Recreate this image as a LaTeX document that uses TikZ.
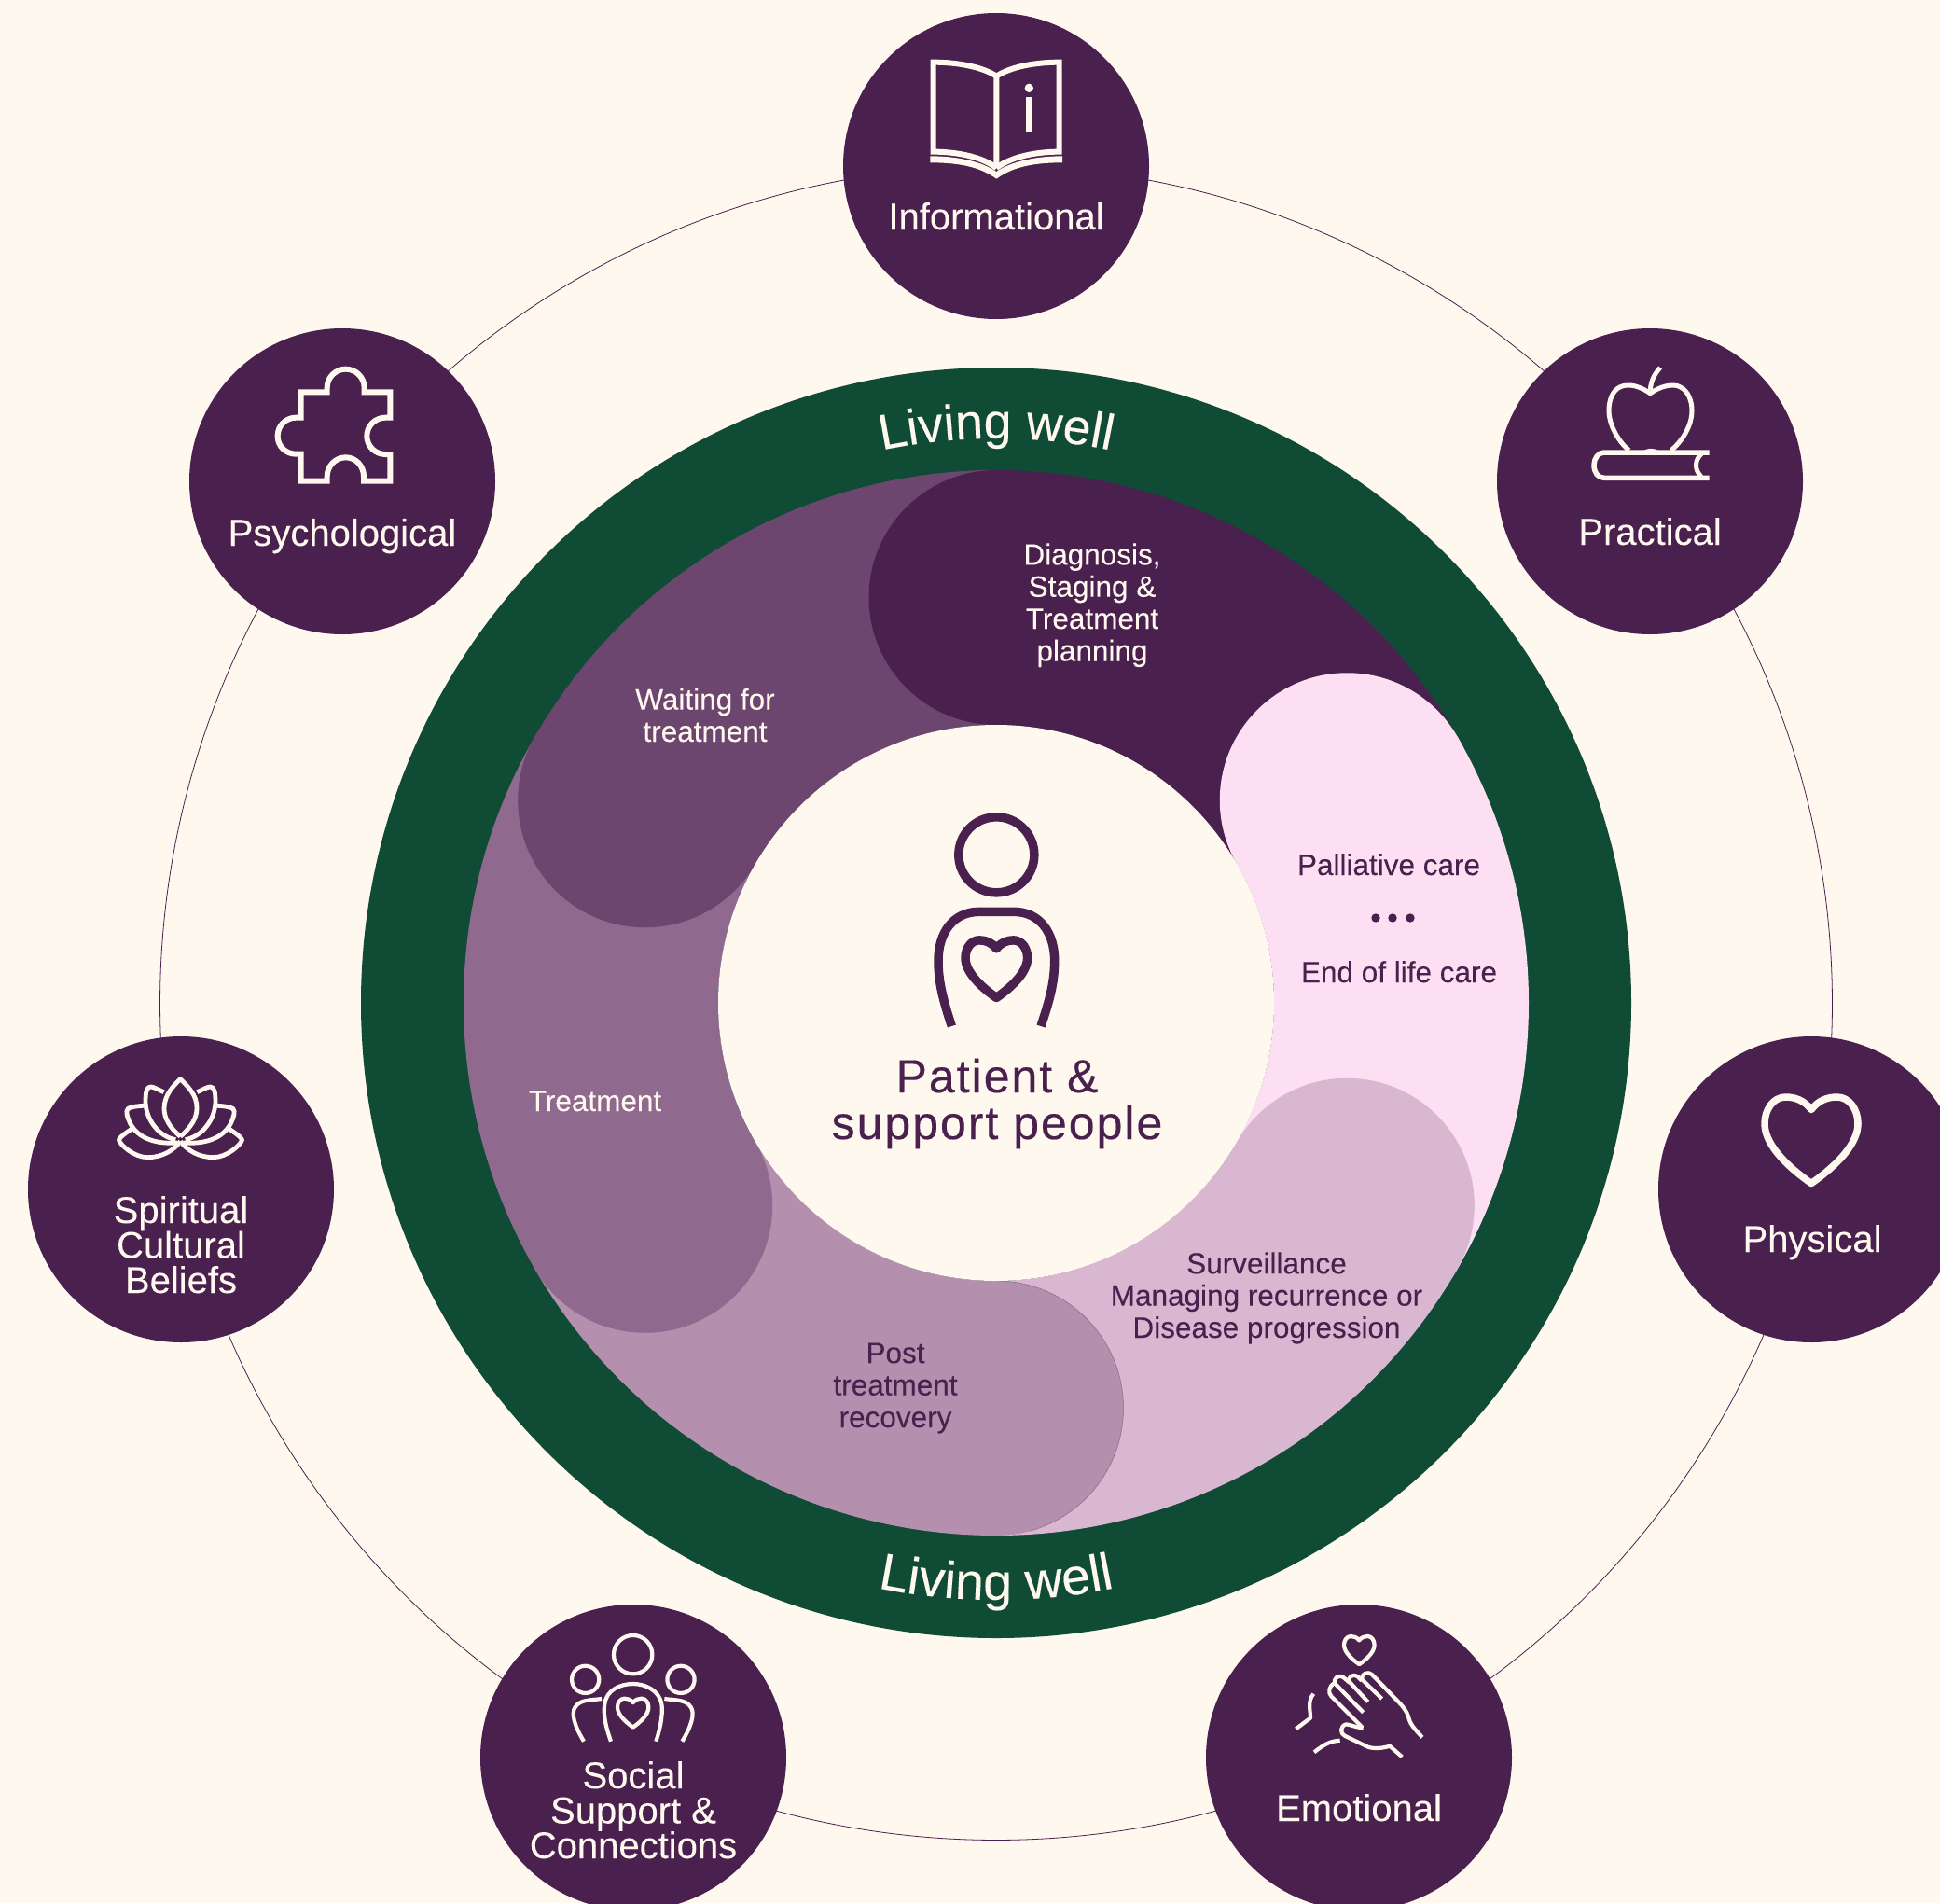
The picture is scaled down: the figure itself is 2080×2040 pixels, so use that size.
\documentclass[tikz,border=0pt]{standalone}
\usepackage{fontspec}
\setmainfont{Liberation Sans}[FakeBold=0.12]
\newfontfamily\ctrfamily[LetterSpace=4,FakeBold=0.3]{Liberation Sans}
\usetikzlibrary{decorations.text}
\definecolor{cream}{HTML}{FFF8EF}
\definecolor{plum}{HTML}{4A204E}
\definecolor{cWait}{HTML}{6D4670}
\definecolor{cTreat}{HTML}{8F6A8E}
\definecolor{cPost}{HTML}{B48FAE}
\definecolor{cSurv}{HTML}{D9B7D1}
\definecolor{cPink}{HTML}{FDDFF3}
\definecolor{cGreen}{HTML}{0F4B35}
\pgfdeclarelayer{back}
\pgfsetlayers{back,main}
\newcommand\satfont{\fontsize{40}{37.5}\selectfont\lineskiplimit=-100pt }
\newcommand\seglabelfont{\fontsize{31.5}{34.4}\selectfont\lineskiplimit=-100pt }
\newcommand\ctrlabelfont{\ctrfamily\fontsize{50}{50}\selectfont\lineskiplimit=-100pt }
\newcommand\lwfont{\fontsize{53.5}{60}\selectfont}
\newcommand\lwfontb{\fontsize{55.5}{60}\selectfont}
\newcommand\heartmark[5]{%
  \begin{scope}[shift={(#1,#2)},x=#3pt,y=-#3pt]
    \draw[draw=#5,line width=#4pt,line join=round]
      (0,-65) .. controls (-15,-85) and (-35,-92) .. (-55,-92)
      .. controls (-82,-92) and (-100,-65) .. (-100,-35)
      .. controls (-100,15) and (-40,65) .. (0,93)
      .. controls (40,65) and (100,15) .. (100,-35)
      .. controls (100,-65) and (82,-92) .. (55,-92)
      .. controls (35,-92) and (15,-85) .. (0,-65) -- cycle;
  \end{scope}}
\tikzset{
  sat/.style={circle,fill=plum,minimum size=328pt,inner sep=0pt,outer sep=0pt},
  satlabel/.style={anchor=base,text=cream,font=\satfont,align=center,inner sep=0pt},
  seglight/.style={anchor=base,text=cream,font=\seglabelfont,align=center,inner sep=0pt},
  segdark/.style={anchor=base,text=plum,font=\seglabelfont,align=center,inner sep=0pt},
  ringline/.style={draw=plum,line width=0.8pt},
  ico/.style={draw=cream,line width=#1,line cap=butt,line join=miter},
  ico/.default=6pt,
  zoomed/.style={x=0.33333pt,y=-0.33333pt}
}
\begin{document}
\begin{tikzpicture}[x=1pt,y=-1pt]
\path[use as bounding box] (0,0) rectangle (2080,2040);
\begin{pgfonlayer}{back}
  \fill[cream] (0,0) rectangle (2080,2040);
\end{pgfonlayer}

% central ring
\begin{scope}[shift={(1068,1075)},x=1pt,y=1pt]
  \fill[cGreen] (0,0) circle[radius=681pt];
  \foreach \a/\c in {90/plum,30/cPink,-30/cSurv,-90/cPost,-150/cTreat,150/cWait}{
    \fill[\c] (\a:298pt) arc[start angle=\a,delta angle=-60,radius=298pt]
      -- ({\a-60}:571pt) arc[start angle={\a-60},delta angle=60,radius=571pt] -- cycle;
  }
  \foreach \a/\c in {90/plum,30/cPink,-30/cSurv,-90/cPost,-150/cTreat,150/cWait}{
    \fill[\c] (\a:434.5pt) circle[radius=136.5pt];
  }
  \draw[draw=black!25!cPost,line width=0.5pt] (-90:434.5pt) ++(0pt,136.5pt)
     arc[start angle=90,end angle=-75,radius=136.5pt];
  \fill[cream] (0,0) circle[radius=298pt];
  \path[decorate,decoration={text along path,text color=cream,text align=center,
      text={|\lwfont|Living well}}]
      (115:605pt) arc[start angle=115,end angle=65,radius=605pt];
  \path[decorate,decoration={text along path,text color=cream,text align=center,
      text={|\lwfontb|Living well}}]
      (245:640pt) arc[start angle=245,end angle=295,radius=640pt];
\end{scope}

% satellites
\node[sat] (info) at (1068,178) {};
\node[sat] (prac) at (1769,516) {};
\node[sat] (phys) at (1942,1275) {};
\node[sat] (emot) at (1457,1884) {};
\node[sat] (soci) at (679,1884) {};
\node[sat] (spir) at (194,1275) {};
\node[sat] (psyc) at (367,516) {};

% connecting circle, one arc per neighbouring pair
\begin{pgfonlayer}{back}
\foreach \s/\t/\p in {info/prac/90,prac/phys/38.571,phys/emot/-12.857,emot/soci/-64.286,soci/spir/-115.714,spir/psyc/-167.143,psyc/info/141.429}{
  \pgfmathsetmacro\oa{\p-90}
  \pgfmathsetmacro\ia{\p+38.571}
  \draw[ringline] (\s.center) to[out=\oa,in=\ia,looseness=0.896] (\t.center);
}
\end{pgfonlayer}

% satellite labels
\node[satlabel] (infoL) at (1068,246) {Informational};
\node[satlabel] (psycL) at (367,585) {Psychological};
\node[satlabel] (pracL) at (1769,584) {Practical};
\node[satlabel] (physL) at (1943,1342) {Physical};
\node[satlabel] (emotL) at (1457,1952) {Emotional};
\node[satlabel] (spirL) at (194,1386) {Spiritual\\Cultural\\Beliefs};
\node[satlabel] (sociL) at (679,1992) {Social\\Support \&\\Connections};

% segment labels
\node[seglight] (diagL) at (1171,708.5) {Diagnosis,\\Staging \&\\Treatment\\planning};
\node[seglight] (waitL) at (756,795) {Waiting for\\treatment};
\node[seglight] (treatL) at (638,1191) {Treatment};
\node[segdark] (postL) at (960,1530) {Post\\treatment\\recovery};
\node[segdark] (survL) at (1358,1434) {Surveillance\\Managing recurrence or\\Disease progression};
\node[segdark] (palL) at (1489,938) {Palliative care};
\node[segdark] (eolL) at (1500,1053) {End of life care};
\foreach \x in {1475,1493,1512} \fill[plum] (\x,984) circle[radius=4.7pt];

% centre
\node[anchor=base,text=plum,font=\ctrlabelfont,align=center,inner sep=0pt] (ctr) at (1069,1221) {Patient \&\\support people};
\begin{scope}[shift={(880,840)},zoomed]
  \draw[draw=plum,line width=9.5pt] (565,229) circle[radius=40.5pt];
  \draw[draw=plum,line width=9.5pt] (421,780) .. controls (395,700) and (378,640) .. (378,570)
     .. controls (378,480) and (425,412) .. (510,412) -- (620,412)
     .. controls (705,412) and (752,480) .. (752,570)
     .. controls (752,640) and (735,700) .. (708,780);
\end{scope}
\heartmark{1068.3}{1038.5}{0.333}{9.5}{plum}

% Informational: book
\begin{scope}[shift={(900,10)},zoomed]
  \draw[ico] (505,510) -- (505,215) .. controls (460,185) and (380,170) .. (302,170)
     -- (302,458) .. controls (380,458) and (460,475) .. (505,510);
  \draw[ico] (505,215) .. controls (550,185) and (630,170) .. (707,170)
     -- (707,458) .. controls (630,458) and (550,475) .. (505,510);
  \fill[cream] (292,472) .. controls (380,472) and (460,490) .. (505,522)
     .. controls (550,490) and (630,472) .. (717,472) -- (717,493)
     .. controls (630,493) and (560,505) .. (505,545)
     .. controls (450,505) and (380,493) .. (292,493) -- cycle;
  \fill[cream] (610,253) circle[radius=4.7pt];
  \fill[cream] (600,283) rectangle (618,396);
\end{scope}

% Psychological: puzzle
\begin{scope}[shift={(200,350)},zoomed]
  \draw[ico] (368,211) -- (452,211) -- (452,197) .. controls (452,164) and (479,137) .. (512,137)
     .. controls (545,137) and (572,164) .. (572,197) -- (572,211) -- (655,211) -- (655,293)
     -- (640,293) .. controls (607,293) and (580,319) .. (580,352)
     .. controls (580,385) and (607,411) .. (640,411) -- (655,411) -- (655,497) -- (570,497)
     -- (570,482) .. controls (570,449) and (545,421) .. (512,421)
     .. controls (479,421) and (452,449) .. (452,482) -- (452,497) -- (368,497) -- (368,410)
     -- (352,410) .. controls (319,410) and (293,385) .. (293,352)
     .. controls (293,319) and (319,293) .. (352,293) -- (368,293) -- cycle;
\end{scope}

% Practical: apple on book
\begin{scope}[shift={(1600,350)},zoomed]
  \draw[ico=5pt,line join=round] (440,398) .. controls (410,375) and (375,320) .. (375,270)
     .. controls (375,240) and (385,207) .. (410,195)
     .. controls (440,180) and (480,195) .. (508,215)
     .. controls (535,195) and (580,180) .. (605,195)
     .. controls (630,207) and (642,240) .. (642,270)
     .. controls (642,320) and (610,370) .. (575,398);
  \draw[ico=5pt] (508,205) .. controls (510,170) and (525,150) .. (540,132);
  \draw[ico=5.5pt] (698,405) -- (360,405) .. controls (340,405) and (327,425) .. (327,445)
     .. controls (327,470) and (340,487) .. (360,487) -- (698,487);
  \draw[ico=5pt] (672,410) .. controls (650,430) and (650,462) .. (672,483);
  \fill[cream] (485,400) .. controls (500,390) and (520,390) .. (535,400) -- cycle;
\end{scope}

% Spiritual: lotus
\begin{scope}[shift={(30,1110)},zoomed]
  \begin{scope}[every path/.style={ico=4.8pt,line join=round}]
  \draw (490,325) .. controls (455,295) and (438,265) .. (438,235)
     .. controls (438,190) and (470,160) .. (490,140)
     .. controls (510,160) and (545,190) .. (543,235)
     .. controls (543,265) and (525,295) .. (490,325);
  \draw (437,182) .. controls (420,175) and (405,165) .. (395,165)
     .. controls (382,165) and (378,180) .. (378,215)
     .. controls (380,270) and (420,325) .. (475,335);
  \draw (544,182) .. controls (561,175) and (576,165) .. (586,165)
     .. controls (599,165) and (603,180) .. (603,215)
     .. controls (601,270) and (561,325) .. (506,335);
  \draw (378,225) .. controls (350,228) and (335,228) .. (322,235)
     .. controls (312,243) and (320,265) .. (330,285)
     .. controls (355,330) and (410,350) .. (480,345);
  \draw (603,225) .. controls (631,228) and (646,228) .. (659,235)
     .. controls (669,243) and (661,265) .. (651,285)
     .. controls (626,330) and (571,350) .. (501,345);
  \draw (335,300) .. controls (320,310) and (300,322) .. (292,335)
     .. controls (295,350) and (340,392) .. (385,392)
     .. controls (430,392) and (470,370) .. (490,340);
  \draw (646,300) .. controls (661,310) and (681,322) .. (689,335)
     .. controls (686,350) and (641,392) .. (596,392)
     .. controls (551,392) and (511,370) .. (491,340);
  \end{scope}
\end{scope}

% Social: three people
\begin{scope}[shift={(510,1720)},zoomed]
  \begin{scope}[every path/.style={ico=4.2pt}]
  \draw (506,161) circle[radius=20.7pt];
  \draw (353,241) circle[radius=14.6pt];
  \draw (660,241) circle[radius=14.6pt];
  \draw (435,440) .. controls (415,385) and (410,345) .. (415,320)
     .. controls (420,275) and (465,255) .. (506,255)
     .. controls (545,255) and (590,275) .. (598,320)
     .. controls (602,345) and (598,385) .. (580,440);
  \draw (405,303) .. controls (370,308) and (335,305) .. (320,330)
     .. controls (305,350) and (320,395) .. (348,440);
  \draw (607,303) .. controls (642,308) and (677,305) .. (692,330)
     .. controls (707,350) and (692,395) .. (664,440);
  \end{scope}
\end{scope}
\heartmark{678.7}{1836}{0.167}{4.2}{cream}

% Emotional: hand and heart
\begin{scope}[shift={(1290,1720)},zoomed]
  \begin{scope}[every path/.style={ico=4.2pt,line join=round}]
  \draw (705,427) .. controls (680,400) and (665,385) .. (660,360)
     .. controls (655,345) and (645,330) .. (630,315) -- (543,225)
     .. controls (530,213) and (508,222) .. (510,240) -- (575,303);
  \draw (530,313) -- (472,250) .. controls (462,235) and (480,220) .. (497,232) -- (510,245);
  \draw (515,347) -- (425,255) .. controls (415,240) and (435,222) .. (452,235) -- (472,252);
  \draw (422,252) .. controls (405,262) and (400,282) .. (412,295) -- (510,393);
  \draw (515,397) .. controls (490,395) and (470,385) .. (460,385)
     .. controls (440,390) and (440,415) .. (455,422) -- (530,458)
     .. controls (550,465) and (580,462) .. (600,455) -- (640,490);
  \draw (440,437) .. controls (410,440) and (395,445) .. (357,475);
  \draw (355,287) .. controls (335,310) and (345,340) .. (345,365) -- (298,400);
  \end{scope}
\end{scope}
\heartmark{1457.3}{1769}{0.163}{4.2}{cream}

% Physical: heart
\heartmark{1942}{1222}{0.5}{7.5}{cream}
\end{tikzpicture}
\end{document}
